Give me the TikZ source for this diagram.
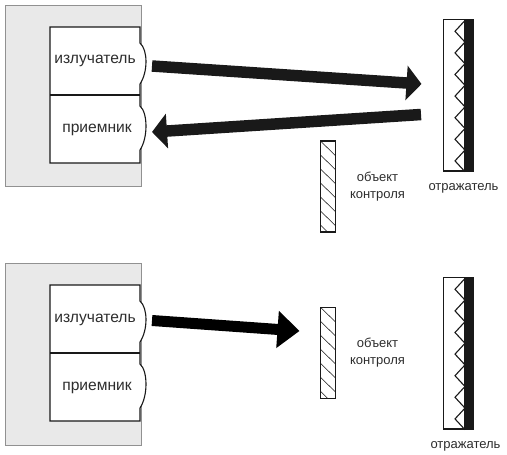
\documentclass[tikz,border=0pt]{standalone}
\usepackage{fontspec}
\setmainfont{Liberation Sans}
\usetikzlibrary{arrows.meta, positioning}
\definecolor{colHouse}{RGB}{233,233,233}
\definecolor{colHouseEdge}{RGB}{145,145,145}
\definecolor{colInk}{RGB}{25,25,25}
\definecolor{colText}{RGB}{45,45,45}
\tikzset{
  houseBox/.style={
    rectangle, draw=colHouseEdge, line width=1.3pt, fill=colHouse,
    minimum width=136pt, inner sep=0pt
  },
  unitEdge/.style={
    draw=colInk, line width=1.1pt, fill=white
  },
  unitLabel/.style={
    font=\fontsize{15.6}{18}\selectfont, text=colText, inner sep=0pt, anchor=base
  },
  smallLabel/.style={
    font=\fontsize{13}{17.5}\selectfont, text=colText, inner sep=0pt, align=center
  },
  fatarr/.style={
    -{Triangle[length=15pt, width=34pt]}, line width=11.5pt, color=colInk
  },
  fatarrBlack/.style={
    -{Triangle[length=22pt, width=36pt]}, line width=11pt, color=black
  },
  hatchLine/.style={
    line width=0.55pt, color=colInk
  },
  zigLine/.style={
    line width=1.1pt, color=colInk
  }
}
\begin{document}
\begin{tikzpicture}[x=1pt, y=-1pt]
  \useasboundingbox (0,0) rectangle (507,455);

  % housing, emitter and receiver (both panels)
  \foreach \dy/\p/\hh in {0/a/181.5, 258/b/182} {
    \begin{scope}[yshift=-\dy pt]
      \node[houseBox, minimum height=\hh pt, anchor=north west] (house\p) at (4.5,4.5) {};
      \draw[unitEdge] (50,27) -- (140,27) -- (140,43)
        .. controls (148,50) and (148,72) .. (140,84) -- (140,106)
        .. controls (148,113) and (148,138) .. (140,150) -- (140,163) -- (50,163) -- cycle;
      \draw[unitEdge, fill=none] (50,95) -- (140,95);
      % reflector
      \draw[line width=1.1pt, draw=colInk, fill=white] (443.5,19.5) rectangle (465,171);
      \fill[colInk] (465,19) rectangle (474.2,171.6);
      \draw[zigLine] (465,20.5)
        \foreach \k in {0,...,6} { -- (455,31.3+21.6*\k) -- (465,42.1+21.6*\k) };
    \end{scope}
  }

  % object under test, upper and lower
  \foreach \ty/\p in {141/a, 307.3/b} {
    \begin{scope}[yshift=-\ty pt]
      \draw[line width=1.1pt, draw=colInk, fill=white] (320.5,0) rectangle (335.8,91);
      \foreach \k in {0,...,5}
        \draw[hatchLine] (320.5,14*\k) -- (335.8,14*\k+15);
      \draw[hatchLine] (320.5,84) -- (327.5,91);
    \end{scope}
  }

  % labels
  \node[unitLabel] (emitA) at (95,63.5) {излучатель};
  \node[unitLabel] (recvA) at (97,132) {приемник};
  \node[unitLabel] (emitB) at (95,322) {излучатель};
  \node[unitLabel] (recvB) at (97,390) {приемник};
  \node[smallLabel] (objA) at (377.5,186.5) {объект\\контроля};
  \node[smallLabel] (objB) at (377.5,352.5) {объект\\контроля};
  \node[smallLabel, anchor=base] (reflA) at (463.5,190) {отражатель};
  \node[smallLabel, anchor=base] (reflB) at (465.5,448) {отражатель};

  % beams
  \coordinate (beamAs) at (152,66);
  \coordinate (beamAe) at (421.5,84);
  \coordinate (backAs) at (421,114.5);
  \coordinate (backAe) at (152,132);
  \coordinate (beamBs) at (152,320.5);
  \coordinate (beamBe) at (299.5,331);
  \draw[fatarr] (beamAs) -- (beamAe);
  \draw[fatarr] (backAs) -- (backAe);
  \draw[fatarrBlack] (beamBs) -- (beamBe);

\end{tikzpicture}
\end{document}
